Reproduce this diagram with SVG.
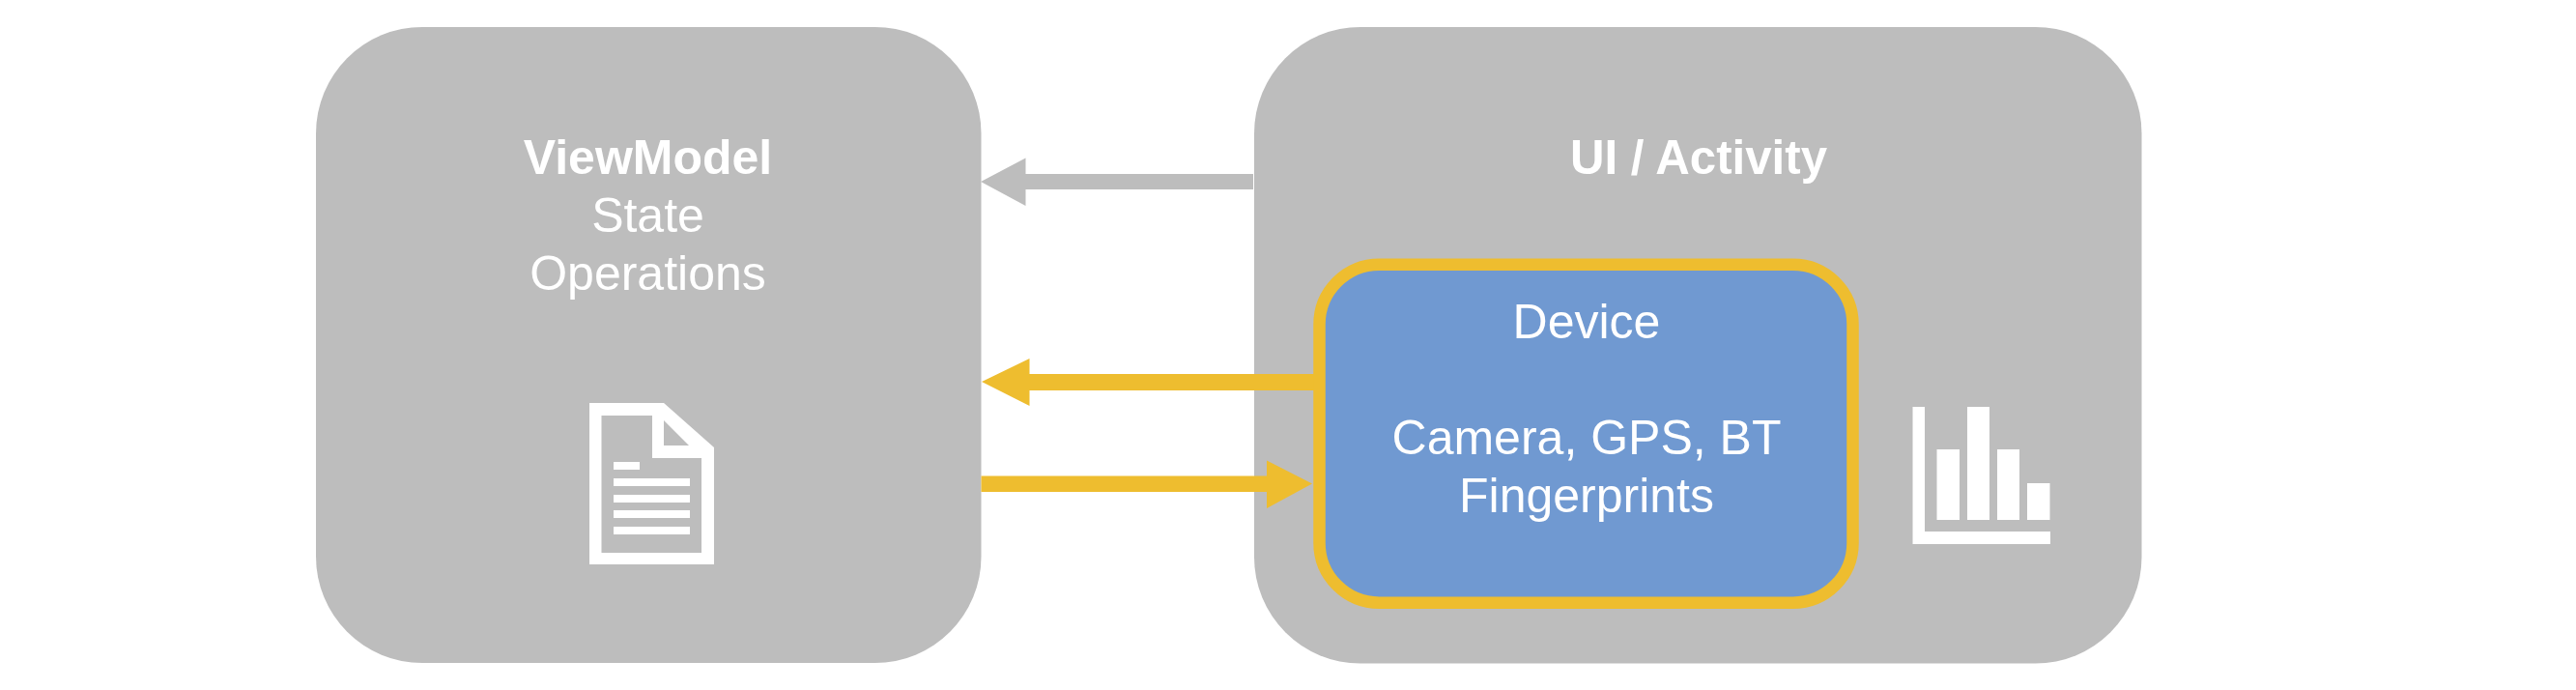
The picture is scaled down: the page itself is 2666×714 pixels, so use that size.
<svg xmlns="http://www.w3.org/2000/svg" width="2666" height="714" viewBox="0 0 2666 714">
<style>
.box{fill:#bdbdbd}
.gold{fill:#eebd2f}
.ic{fill:#fff}
text{font-family:"Liberation Sans",Arial,sans-serif;font-size:50px;fill:#fff;text-anchor:middle}
.b{font-weight:bold}
</style>
<rect width="2666" height="714" fill="#fff"/>
<g id="viewmodel">
<rect class="box" x="327" y="28" width="688.500" height="658" rx="110"/>
<text class="b" x="670.500" y="180">ViewModel</text>
<text x="670.500" y="240">State</text>
<text x="670.500" y="300">Operations</text>
<path class="ic" fill-rule="evenodd" d="M610 417H687L739 463V584H610ZM622.500 430V572H726V474H675V430ZM687 435V461H713Z"/>
<rect class="ic" x="635" y="478" width="27" height="8"/>
<rect class="ic" x="635" y="495" width="79" height="8"/>
<rect class="ic" x="635" y="512" width="79" height="8"/>
<rect class="ic" x="635" y="528" width="79" height="8"/>
<rect class="ic" x="635" y="545" width="79" height="8"/>
</g>
<g id="ui-activity">
<rect class="box" x="1298" y="28" width="918.500" height="658.500" rx="110"/>
<text class="b" x="1758" y="180" textLength="266" lengthAdjust="spacingAndGlyphs">UI / Activity</text>
<path class="ic" d="M1979.500 421H1992V550H2122V563H1979.500Z"/>
<rect class="ic" x="2004.500" y="465" width="23.500" height="73"/>
<rect class="ic" x="2036" y="421" width="23" height="117"/>
<rect class="ic" x="2067" y="465" width="23" height="73"/>
<rect class="ic" x="2098" y="500" width="23.500" height="38"/>
</g>
<g id="connectors">
<path class="box" d="M1297 180V196H1061.500V213L1015 188L1061.500 163.500V180Z"/>
<path class="gold" d="M1362 387V404H1065.500V420L1016 395L1065.500 371V387Z"/>
<path class="gold" d="M1015.500 492.500H1311V476.500L1358 500.500L1311 526V509H1015.500Z"/>
</g>
<g id="device">
<rect x="1365.500" y="273.700" width="552" height="350" rx="62" fill="#7099d1" stroke="#eebd2f" stroke-width="12.500"/>
<text x="1642" y="350">Device</text>
<text x="1642" y="470">Camera, GPS, BT</text>
<text x="1642" y="530">Fingerprints</text>
</g>
</svg>
